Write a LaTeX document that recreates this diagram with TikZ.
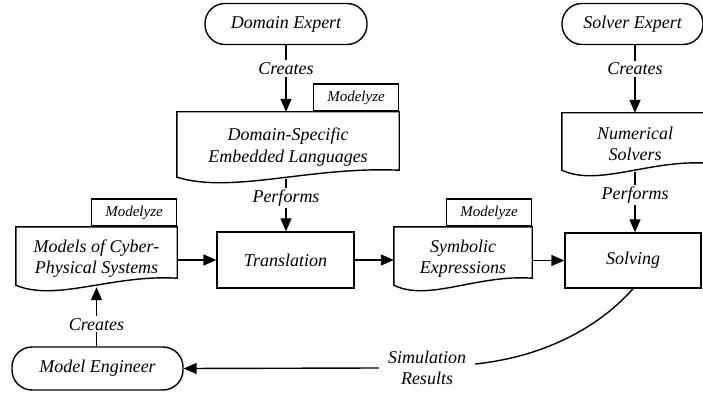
\documentclass[tikz,border=0pt]{standalone}
\usepackage{fontspec}
\setmainfont{Liberation Serif}
\newfontfamily\tnr{Liberation Serif Italic}
\usetikzlibrary{arrows.meta,calc}
\newcommand\docoutline[1]{%
  \draw[line] (#1.north west) -- (#1.north east) -- ([yshift=12pt]#1.south east)
    .. controls ($(#1.south west)!0.6!(#1.south east)+(0,-16)$) and ($(#1.south west)!0.25!(#1.south east)+(0,12)$)
    .. ([yshift=5pt]#1.south west) -- cycle;}
\begin{document}
\begin{tikzpicture}[x=1pt,y=-1pt,
  every node/.style={font=\tnr\fontsize{18}{21.5}\selectfont, inner sep=0pt, align=center},
  line/.style={line width=1.4pt},
  arr/.style={line, -{Triangle[length=13pt,width=11pt]}},
  terminal/.style={draw, line width=1.4pt, rounded corners=20pt, minimum height=41pt},
  procbox/.style={draw, line width=1.4pt, minimum height=56pt},
  docbox/.style={},
  tab/.style={draw, line width=1.4pt, minimum width=85pt, minimum height=27pt, font=\tnr\fontsize{15}{18}\selectfont, anchor=south east},
  lbl/.style={fill=white, inner sep=2pt}
]
\clip (0,0) rectangle (703,395);
\fill[white] (0,0) rectangle (703,395);
% terminals
\node[terminal, minimum width=162pt] (de) at (286,24) {Domain Expert};
\node[terminal, minimum width=141pt] (se) at (632.5,24) {Solver Expert};
\node[terminal, minimum width=171pt, minimum height=43pt] (me) at (97.5,368.5) {Model Engineer};
% documents
\node[docbox, minimum width=222pt, minimum height=70pt] (dsl) at (288,147) {Domain-Specific\\Embedded Languages};
\node[docbox, minimum width=161pt, minimum height=63pt] (cps) at (96.5,258.5) {Models of Cyber-\\Physical Systems};
\node[docbox, minimum width=138pt, minimum height=63pt] (sym) at (463,258.5) {Symbolic\\Expressions};
\node[docbox, minimum width=146pt, minimum height=62pt] (ns) at (635,144) {Numerical\\Solvers};
\docoutline{dsl}
\docoutline{cps}
\docoutline{sym}
\docoutline{ns}
\node[tab] (dsltab) at (dsl.north east) {Modelyze};
\node[tab] (cpstab) at (cps.north east) {Modelyze};
\node[tab] (symtab) at (sym.north east) {Modelyze};
% processes
\node[procbox, minimum width=137pt] (tr) at (285.5,260) {Translation};
\node[procbox, minimum width=136pt, minimum height=55pt] (sol) at (633,260.5) {Solving};
% result label
\node[inner xsep=9pt] (sim) at (427,368) {Simulation\\Results};
% connectors
\draw[arr] (de.south) -- node[lbl, pos=0.35] {Creates} (de.south |- dsl.north);
\draw[arr] ([yshift=3pt]dsl.south -| de.south) -- node[lbl, pos=0.36] {Performs} (tr.north -| de.south);
\draw[arr] (se.south -| ns.north) -- node[lbl, pos=0.35] {Creates} (ns.north);
\draw[arr] ([yshift=3pt]ns.south) -- node[lbl, pos=0.38] {Performs} (sol.north -| ns.south);
\draw[arr] (me.north -| cps.south) -- node[lbl, pos=0.37] {Creates} ([yshift=3pt]cps.south);
\draw[arr] (tr.west -| cps.east) -- (tr.west);
\draw[arr] (tr.east) -- (tr.east -| sym.west);
\draw[arr] (sol.west -| sym.east) -- (sol.west);
\draw[line] (sol.south) .. controls (610,315) and (560,355) .. ([yshift=4pt]sim.east);
\draw[arr] (sim.west) -- (me.east);
\end{tikzpicture}
\end{document}
